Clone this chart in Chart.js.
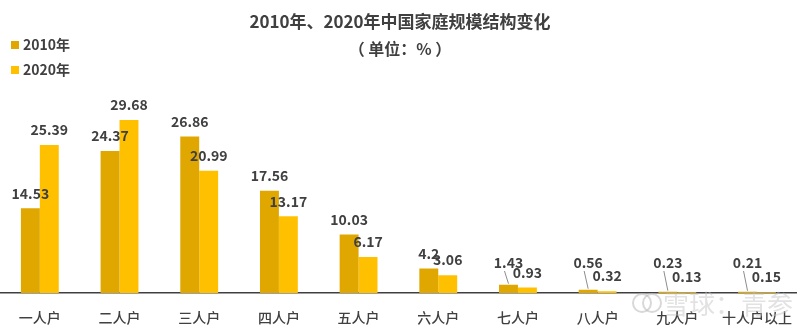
<!DOCTYPE html>
<html>
<head>
<meta charset="utf-8">
<script src="https://cdn.jsdelivr.net/npm/chart.js@4.4.0/dist/chart.umd.min.js"></script>
<style>
  html, body { margin: 0; padding: 0; background: #fff; }
  #wrap { width: 800px; height: 329px; }
</style>
</head>
<body>
<div id="wrap"><canvas id="my-chart"></canvas></div>
<script>
const householdTypes = ['一人户', '二人户', '三人户', '四人户', '五人户', '六人户', '七人户', '八人户', '九人户', '十人户以上'];
const share2010 = [14.53, 24.37, 26.86, 17.56, 10.03, 4.2, 1.43, 0.56, 0.23, 0.21];
const share2020 = [25.39, 29.68, 20.99, 13.17, 6.17, 3.06, 0.93, 0.32, 0.13, 0.15];
const seriesNames = ['2010年', '2020年'];
const titleLines = ['2010年、2020年中国家庭规模结构变化', '（ 单位：% ）'];

const FONT = '"Noto Sans CJK SC", "Noto Sans", sans-serif';
const textColor = '#404040';

// title, legend and watermark drawn by hand
const decorPlugin = {
  id: 'decor',
  afterDraw(chart) {
    const ctx = chart.ctx;
    ctx.save();
    ctx.fillStyle = textColor;
    ctx.textAlign = 'center';
    ctx.textBaseline = 'middle';
    ctx.font = 'bold 17px ' + FONT;
    ctx.fillText(titleLines[0], 400, 22);
    ctx.font = 'bold 16px ' + FONT;
    ctx.fillText(titleLines[1], 400, 49);

    // legend
    ctx.textAlign = 'left';
    ctx.font = 'bold 14px ' + FONT;
    chart.data.datasets.forEach((ds, i) => {
      const y = 45 + i * 25;
      ctx.fillStyle = ds.backgroundColor;
      ctx.fillRect(11, y - 4, 8, 8);
      ctx.fillStyle = textColor;
      ctx.fillText(ds.label, 23, y);
    });

    // watermark
    ctx.fillStyle = 'rgba(190,190,190,0.45)';
    ctx.font = '26px ' + FONT;
    ctx.fillText('雪球：青参', 663, 304);
    ctx.strokeStyle = 'rgba(190,190,190,0.6)';
    ctx.lineWidth = 2;
    ctx.beginPath(); ctx.arc(642, 303, 9, 0, Math.PI * 2); ctx.stroke();
    ctx.beginPath(); ctx.arc(652, 303, 9, 0, Math.PI * 2); ctx.stroke();
    ctx.restore();
  }
};

// value labels above each bar, pushed up with a leader line for tiny bars
const valueLabels = {
  id: 'valueLabels',
  afterDatasetsDraw(chart) {
    const ctx = chart.ctx;
    ctx.save();
    ctx.font = 'bold 14px ' + FONT;
    ctx.fillStyle = textColor;
    ctx.textAlign = 'center';
    ctx.textBaseline = 'middle';
    chart.data.datasets.forEach((ds, di) => {
      const meta = chart.getDatasetMeta(di);
      const cap = di === 0 ? 263 : 277;
      meta.data.forEach((bar, i) => {
        const y = Math.min(bar.y - 15, cap);
        ctx.fillText(String(ds.data[i]), bar.x, y);
        if (bar.y - (y + 7) > 10) {
          ctx.strokeStyle = '#8c8c8c';
          ctx.lineWidth = 1;
          ctx.beginPath();
          ctx.moveTo(bar.x - 4, y + 8);
          ctx.lineTo(bar.x, bar.y - 1);
          ctx.stroke();
        }
      });
    });
    ctx.restore();
  }
};

const ctx = document.getElementById('my-chart').getContext('2d');
const chart = new Chart(ctx, {
  type: 'bar',
  data: {
    labels: householdTypes,
    datasets: [
      { label: seriesNames[0], data: share2010, backgroundColor: '#DFA700' },
      { label: seriesNames[1], data: share2020, backgroundColor: '#FFC000' }
    ]
  },
  options: {
    responsive: true,
    maintainAspectRatio: false,
    animation: false,
    layout: { padding: { top: 89, left: 0, right: 0, bottom: 0 } },
    categoryPercentage: 0.475,
    barPercentage: 1.0,
    plugins: {
      legend: { display: false },
      title: { display: false },
      tooltip: { enabled: false }
    },
    scales: {
      y: { display: false, min: 0, max: 35 },
      x: {
        grid: { display: false },
        border: { display: true, color: '#404040', width: 1.5 },
        ticks: { color: textColor, font: { family: FONT, size: 14, weight: 500 }, padding: 8 },
        afterFit: s => { s.height = 36; }
      }
    }
  },
  plugins: [valueLabels, decorPlugin]
});
</script>
</body>
</html>
